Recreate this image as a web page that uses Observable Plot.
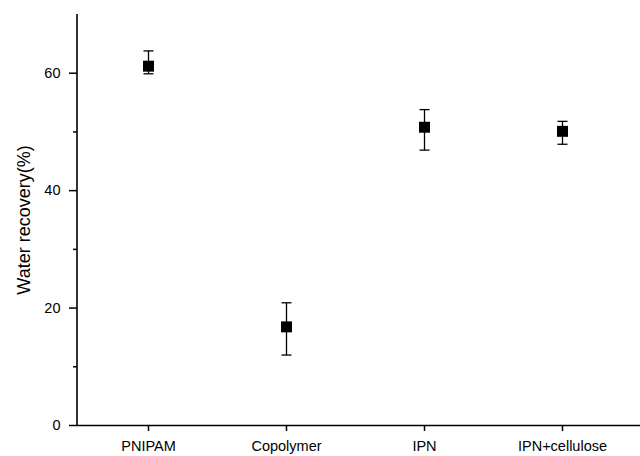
<!DOCTYPE html>
<html>
<head>
<meta charset="utf-8">
<script src="https://cdn.jsdelivr.net/npm/d3@7"></script>
<script src="https://cdn.jsdelivr.net/npm/@observablehq/plot@0.6"></script>
<style>
  html, body { margin: 0; padding: 0; background: #fff; }
  svg { display: block; }
</style>
</head>
<body>
<div id="chart"></div>
<script>
const categories = ["PNIPAM", "Copolymer", "IPN", "IPN+cellulose"];
const recovery = [61.2, 16.8, 50.8, 50.1];
const errLow = [59.9, 12.0, 46.9, 47.9];
const errHigh = [63.8, 20.9, 53.8, 51.8];
const majorTicks = [0, 20, 40, 60];
const minorTicks = [10, 30, 50];

const data = categories.map((c, i) => ({cat: c, v: recovery[i], lo: errLow[i], hi: errHigh[i]}));

const capSymbol = {
  draw(context, size) {
    context.moveTo(-5, 0);
    context.lineTo(5, 0);
  }
};

function yAxisLine(index, scales, values, dimensions) {
  const {marginLeft, marginTop, height, marginBottom} = dimensions;
  return d3.create("svg:line")
    .attr("x1", marginLeft).attr("x2", marginLeft)
    .attr("y1", marginTop).attr("y2", height - marginBottom)
    .attr("stroke", "#000").attr("stroke-width", 1.6)
    .node();
}

const chart = Plot.plot({
  width: 640,
  height: 456,
  marginLeft: 77,
  marginRight: 0,
  marginTop: 14,
  marginBottom: 31,
  style: {fontFamily: "Liberation Sans, Arial, sans-serif", fontSize: "14px", color: "#000", background: "#fff"},
  x: {type: "point", domain: categories, range: [77, 632], label: null},
  y: {domain: [0, 70], label: null},
  marks: [
    Plot.ruleY([0], {stroke: "#000", strokeWidth: 1.6}),
    yAxisLine,
    Plot.axisY({ticks: majorTicks, tickSize: 8, tickPadding: 9, fontSize: 14.5, strokeWidth: 1.5, label: null}),
    Plot.axisY({ticks: minorTicks, tickSize: 4, text: null, strokeWidth: 1.5, label: null}),
    Plot.axisX({tickSize: 6, tickPadding: 9, fontSize: 14.5, strokeWidth: 1.5, label: null}),
    Plot.link(data, {x1: "cat", x2: "cat", y1: "lo", y2: "hi", stroke: "#000", strokeWidth: 1.3}),
    Plot.dot(data, {x: "cat", y: "lo", symbol: capSymbol, stroke: "#000", strokeWidth: 1.3, fill: "none"}),
    Plot.dot(data, {x: "cat", y: "hi", symbol: capSymbol, stroke: "#000", strokeWidth: 1.3, fill: "none"}),
    Plot.dot(data, {x: "cat", y: "v", symbol: "square", r: 6.2, fill: "#000", stroke: "none"}),
    Plot.text(["Water recovery(%)"], {frameAnchor: "left", textAnchor: "middle", dx: -53, rotate: -90, fontSize: 18, fill: "#000"})
  ]
});
document.getElementById("chart").appendChild(chart);
</script>
</body>
</html>
